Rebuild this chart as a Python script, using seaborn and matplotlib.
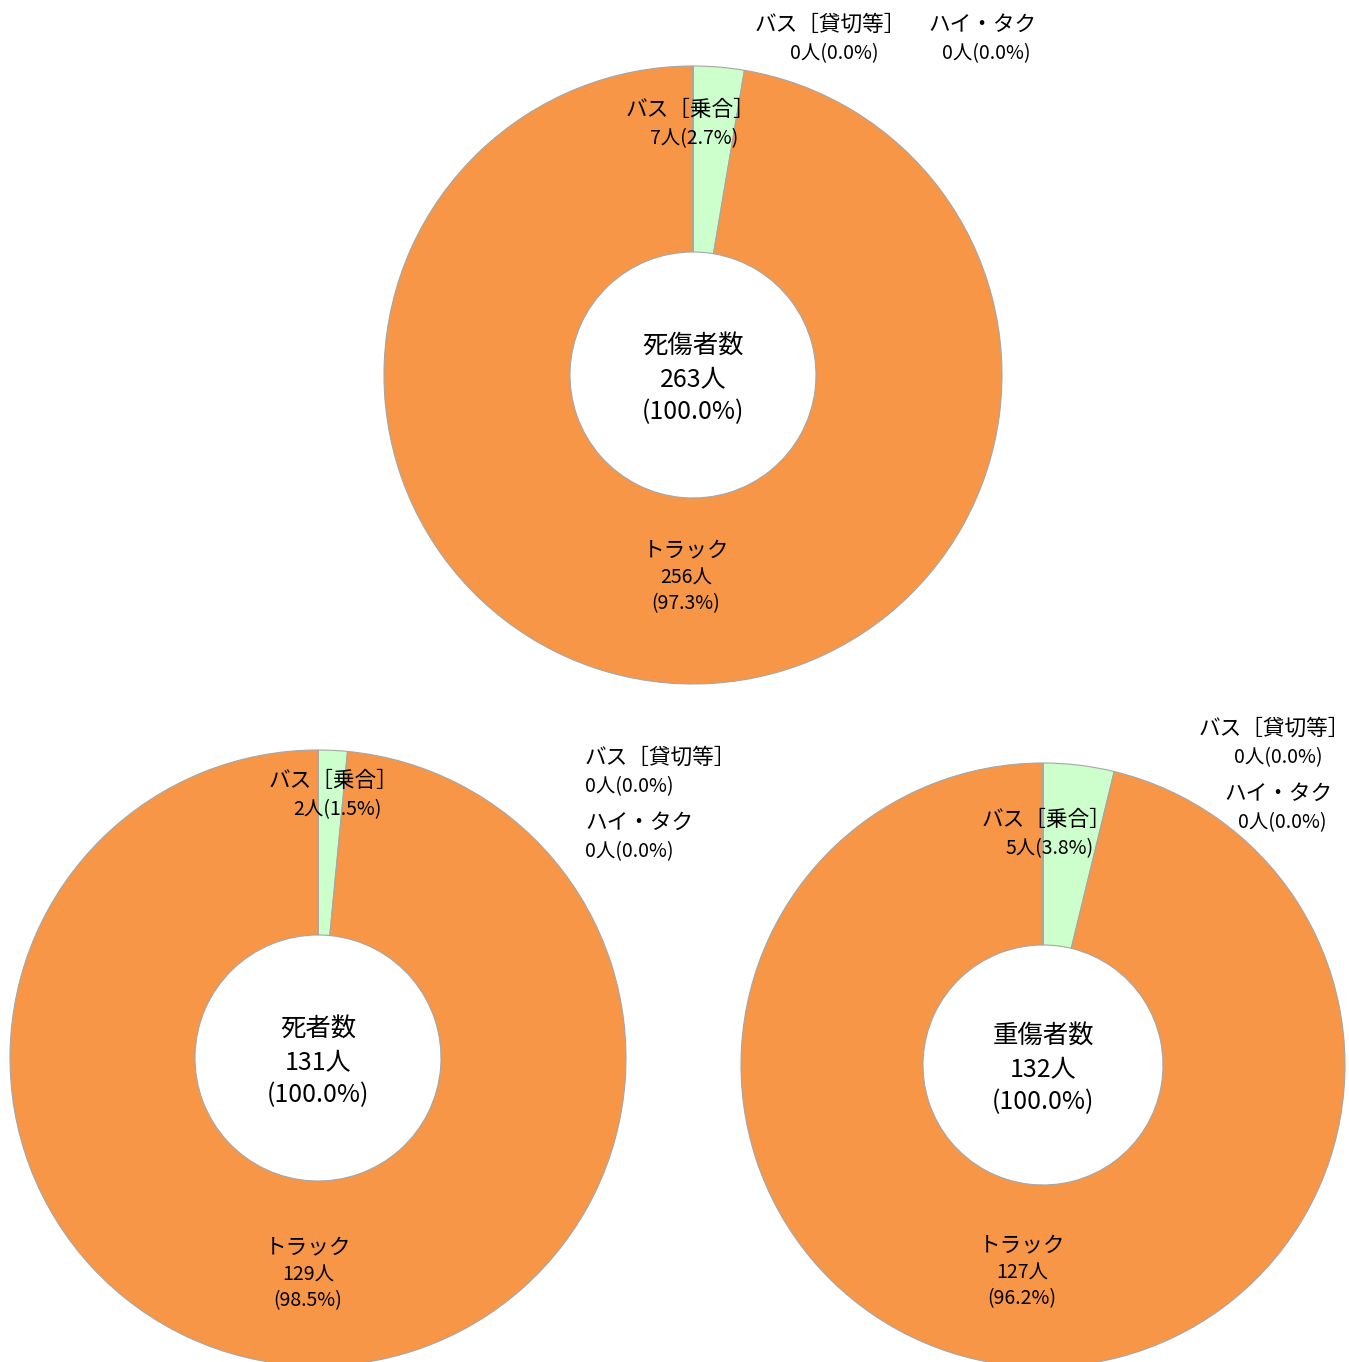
import matplotlib
matplotlib.use("Agg")
import matplotlib.pyplot as plt
import seaborn as sns

sns.set_theme(style="white")
plt.rcParams['font.family'] = ['Noto Sans CJK JP', 'DejaVu Sans']
plt.rcParams['text.color'] = 'black'

# data
categories = ['バス［乗合］', 'トラック', 'バス［貸切等］', 'ハイ・タク']
casualties = [7, 256, 0, 0]      # 死傷者数
deaths = [2, 129, 0, 0]          # 死者数
serious = [5, 127, 0, 0]         # 重傷者数
titles = ['死傷者数', '死者数', '重傷者数']
colors = ['#CCFFCC', '#F79646', '#CCFFCC', '#CCFFCC']

W, H = 1349, 1362
fig = plt.figure(figsize=(W / 100, H / 100), dpi=100)
ax = fig.add_axes([0, 0, 1, 1])

# layout in pixel coordinates (x, y from top)
charts = [
    dict(values=casualties, title=titles[0], c=(693, 375), r=309, ri=123,
         lab={0: (690, 110, 'center'), 1: (686, 550, 'center'),
              2: (830, 25, 'center'), 3: (982, 25, 'center')}),
    dict(values=deaths, title=titles[1], c=(318, 1058), r=308, ri=123,
         lab={0: (333, 781, 'center'), 1: (308, 1247, 'center'),
              2: (585, 758, 'left'), 3: (585, 823, 'left')}),
    dict(values=serious, title=titles[2], c=(1043, 1065), r=302, ri=120,
         lab={0: (1046, 820, 'center'), 1: (1022, 1245, 'center'),
              2: (1274, 729, 'center'), 3: (1278, 794, 'center')}),
]

for ch in charts:
    vals = ch['values']
    total = sum(vals)
    cx, cy = ch['c']
    ax.pie(vals, colors=colors, startangle=90, counterclock=False,
           center=(cx, H - cy), radius=ch['r'],
           wedgeprops=dict(width=ch['r'] - ch['ri'], edgecolor='#A6A6A6', linewidth=0.8))
    # center text
    ax.text(cx, H - (cy - 29), ch['title'], ha='center', va='center', fontsize=18.3)
    ax.text(cx, H - (cy + 5), f'{total}人', ha='center', va='center', fontsize=18)
    ax.text(cx, H - (cy + 37), '(100.0%)', ha='center', va='center', fontsize=18)
    for i, name in enumerate(categories):
        x, y, ha = ch['lab'][i]
        pct = vals[i] / total * 100
        ax.text(x, H - y, name, ha=ha, va='center', fontsize=15.6)
        if i == 1:
            ax.text(x, H - (y + 28), f'{vals[i]}人', ha=ha, va='center', fontsize=14)
            ax.text(x, H - (y + 54), f'({pct:.1f}%)', ha=ha, va='center', fontsize=14)
        else:
            dx = 4 if ha == 'center' else 0
            ax.text(x + dx, H - (y + 29), f'{vals[i]}人({pct:.1f}%)', ha=ha, va='center', fontsize=14)

ax.set_xlim(0, W)
ax.set_ylim(0, H)
ax.set_aspect('equal')
ax.axis('off')

fig.savefig('out.png', dpi=100)
